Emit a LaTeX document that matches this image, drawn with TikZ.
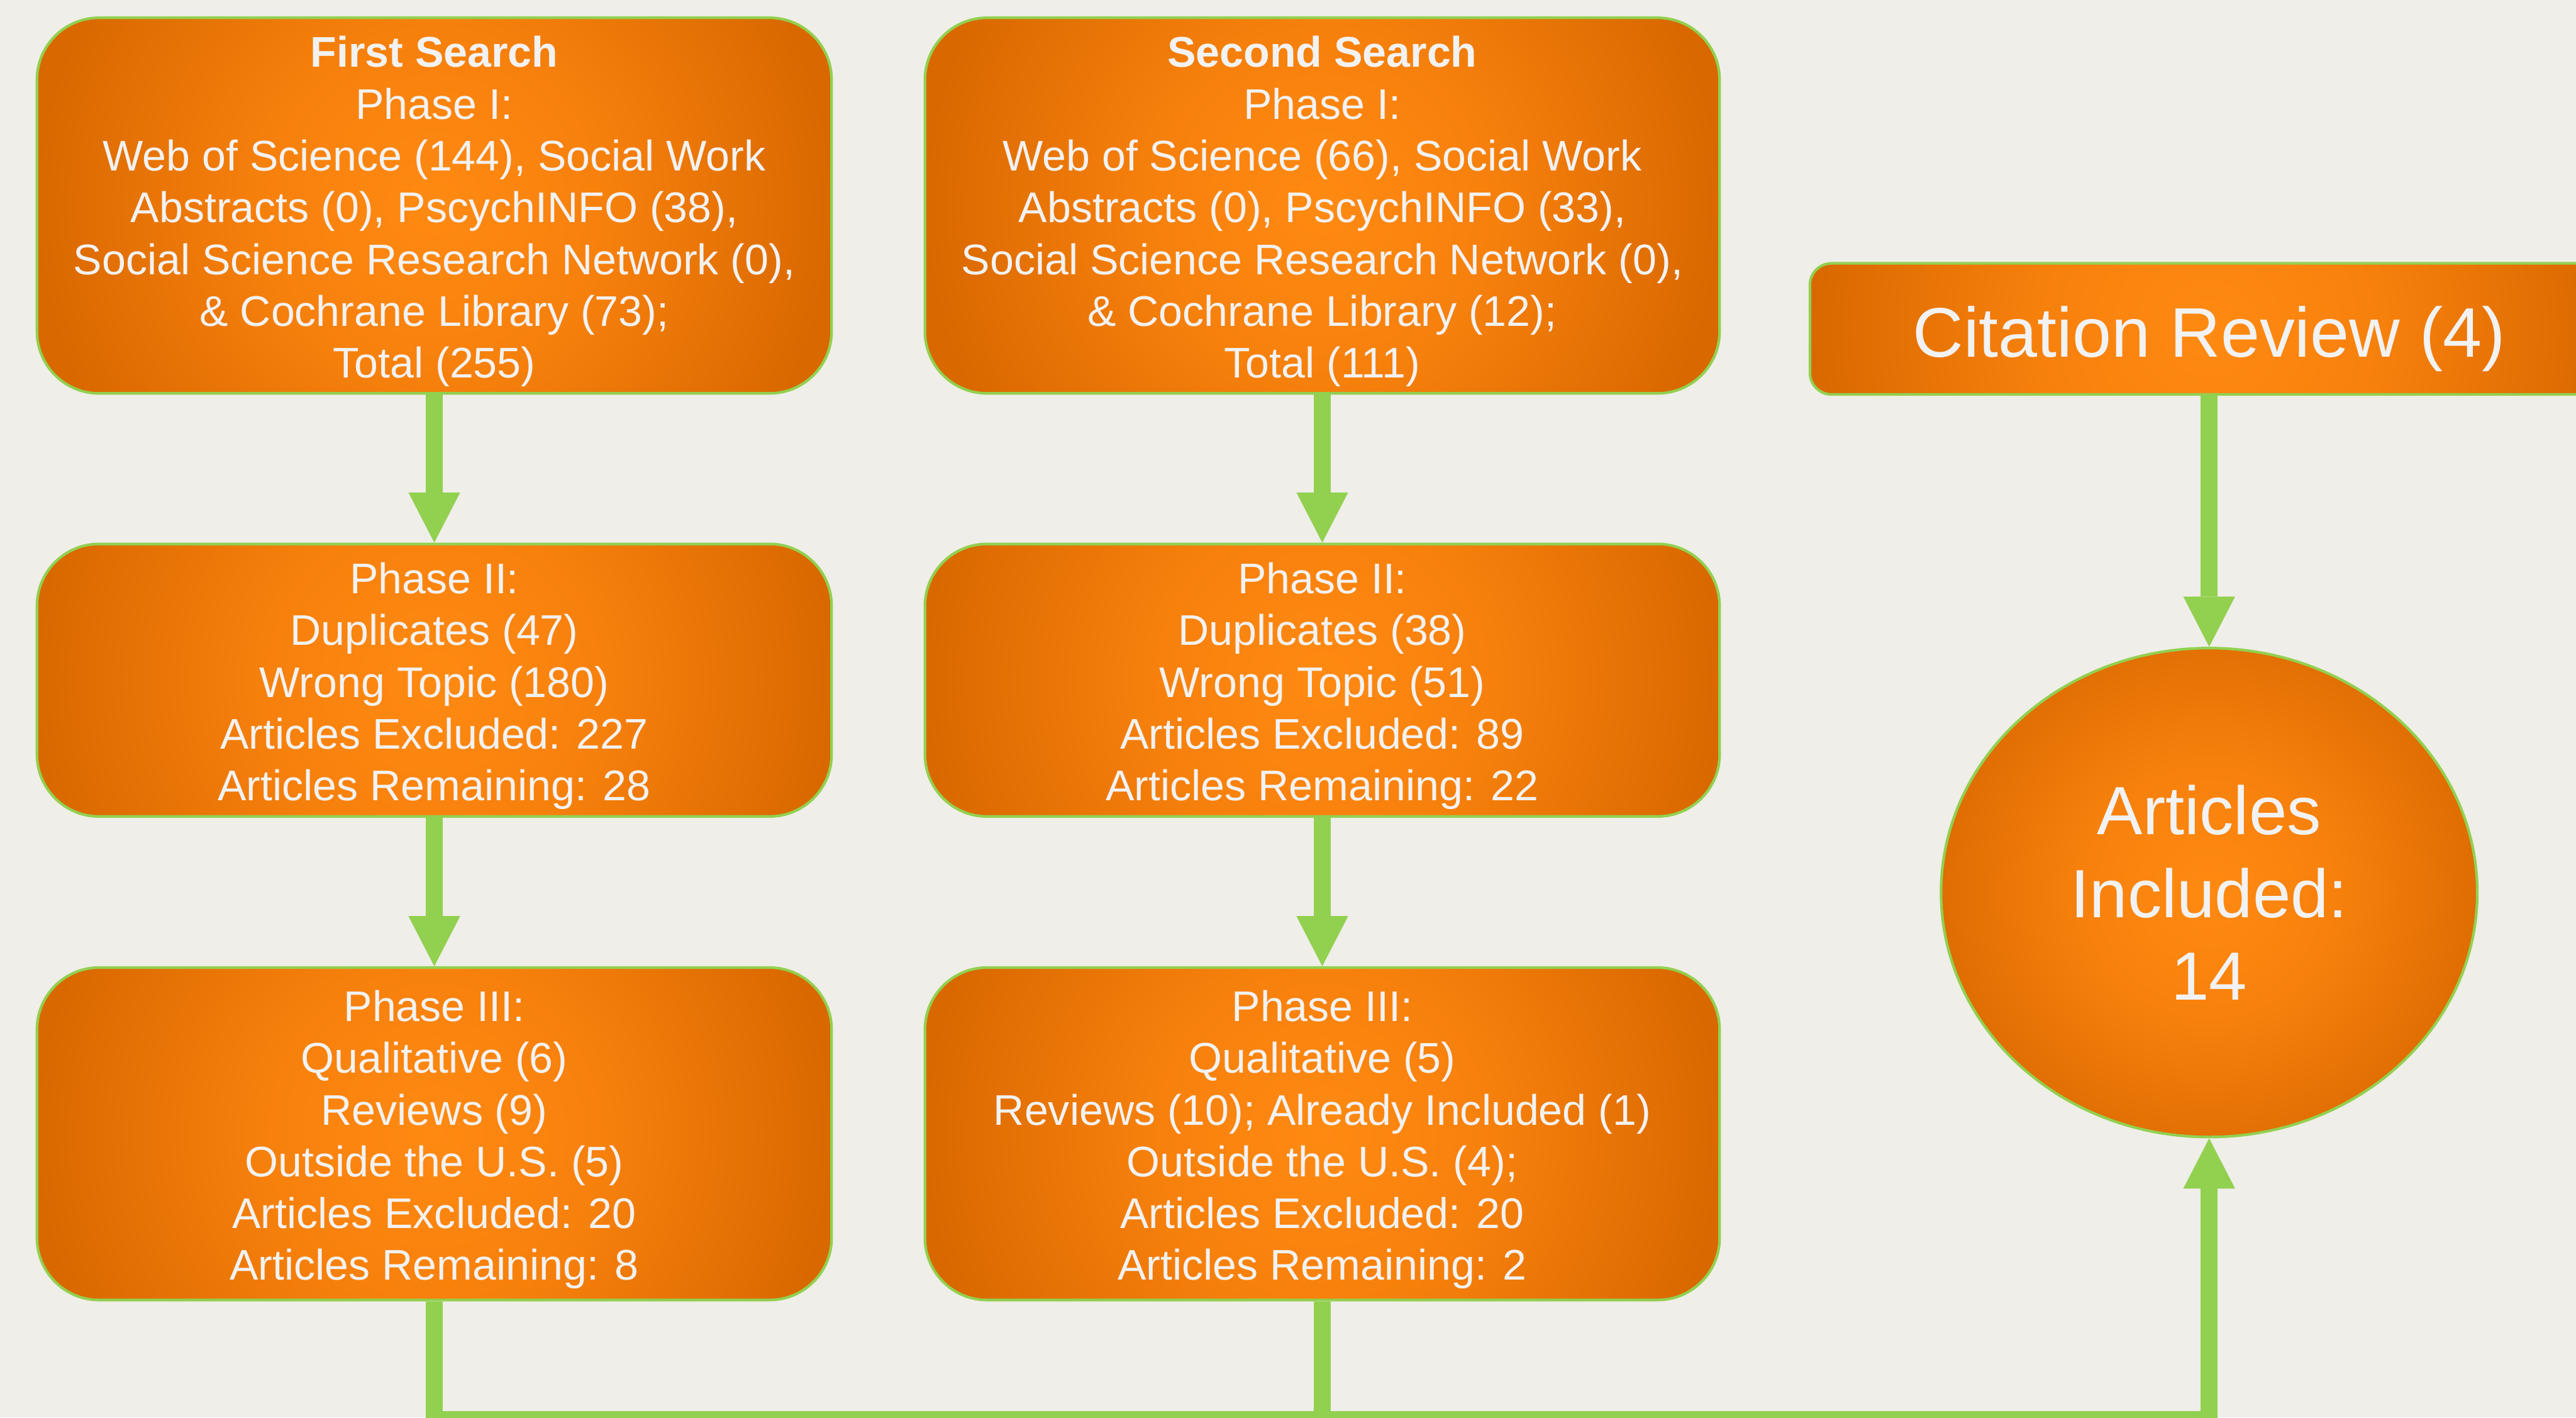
\documentclass[tikz,border=0pt]{standalone}
\usepackage{fontspec}
\setmainfont{Liberation Sans}
\usetikzlibrary{arrows.meta,shapes.geometric}

\definecolor{paper}{RGB}{240,238,232}
\definecolor{leafgreen}{RGB}{146,208,80}
\definecolor{orangehi}{RGB}{255,138,18}
\definecolor{orangemid}{RGB}{246,128,12}
\definecolor{orangelo}{RGB}{217,104,0}
\definecolor{offwhite}{RGB}{242,242,242}

\pgfdeclareradialshading{glow}{\pgfpoint{0bp}{0bp}}{color(0bp)=(orangehi); color(11bp)=(orangemid); color(25bp)=(orangelo); color(50bp)=(orangelo)}

% pushes the first line down a little
\newcommand{\padtop}{\rule{0pt}{1em}}

\begin{document}
\begin{tikzpicture}
  [shaded/.style={draw=leafgreen,line width=1.4pt,text=offwhite,align=center,inner sep=0pt,
     path picture={\fill[orangelo] (path picture bounding box.south west) rectangle (path picture bounding box.north east);
       \shade[shading=glow] (path picture bounding box.center) circle (#1);}},
   phase/.style={shaded=7.4cm,rounded corners=1.15cm,minimum width=14.73cm,font=\fontsize{22.6pt}{27.3pt}\selectfont},
   link/.style={draw=leafgreen,line width=0.32cm},
   tip/.style={-{Triangle[width=0.96cm,length=0.93cm,line width=0pt]}}]
  \clip (0,0) rectangle (47.75,26.27);
  \fill[paper] (0,0) rectangle (47.75,26.27);

  \node[phase,minimum height=6.96cm] (a1) at (8.05,22.46) {\padtop\textbf{First Search}\\Phase I:\\Web of Science (144), Social Work\\Abstracts (0), PscychINFO (38),\\Social Science Research Network (0),\\\& Cochrane Library (73);\\Total (255)};
  \node[phase,minimum height=6.96cm] (b1) at (24.51,22.46) {\padtop\textbf{Second Search}\\Phase I:\\Web of Science (66), Social Work\\Abstracts (0), PscychINFO (33),\\Social Science Research Network (0),\\\& Cochrane Library (12);\\Total (111)};
  \node[phase,minimum height=5.05cm] (a2) at (8.05,13.665) {\padtop Phase II:\\Duplicates (47)\\Wrong Topic (180)\\Articles Excluded: 227\\Articles Remaining: 28};
  \node[phase,minimum height=5.05cm] (b2) at (24.51,13.665) {\padtop Phase II:\\Duplicates (38)\\Wrong Topic (51)\\Articles Excluded: 89\\Articles Remaining: 22};
  \node[phase,minimum height=6.16cm] (a3) at (8.05,5.26) {\padtop Phase III:\\Qualitative (6)\\Reviews (9)\\Outside the U.S. (5)\\Articles Excluded: 20\\Articles Remaining: 8};
  \node[phase,minimum height=6.16cm] (b3) at (24.51,5.26) {\padtop Phase III:\\Qualitative (5)\\Reviews (10); Already Included (1)\\Outside the U.S. (4);\\Articles Excluded: 20\\Articles Remaining: 2};
  \node[shaded=7.4cm,rounded corners=0.4cm,minimum width=14.8cm,minimum height=2.43cm,font=\fontsize{37pt}{44pt}\selectfont] (cr) at (40.95,20.175) {\padtop Citation Review (4)};
  \node[shaded=5.6cm,ellipse,minimum width=9.94cm,minimum height=9.06cm,font=\fontsize{36pt}{43.6pt}\selectfont] (inc) at (40.95,9.73) {Articles\\Included:\\14};

  \foreach \from/\to in {a1/a2,a2/a3,b1/b2,b2/b3,cr/inc}
    \draw[link,tip] (\from) -- (\to);

  \coordinate (low) at (0,-0.04);
  \draw[link,tip] (a3.south) |- (low -| inc.south) -- (inc.south);
  \draw[link] (b3.south) -- (b3.south |- low);
\end{tikzpicture}
\end{document}
